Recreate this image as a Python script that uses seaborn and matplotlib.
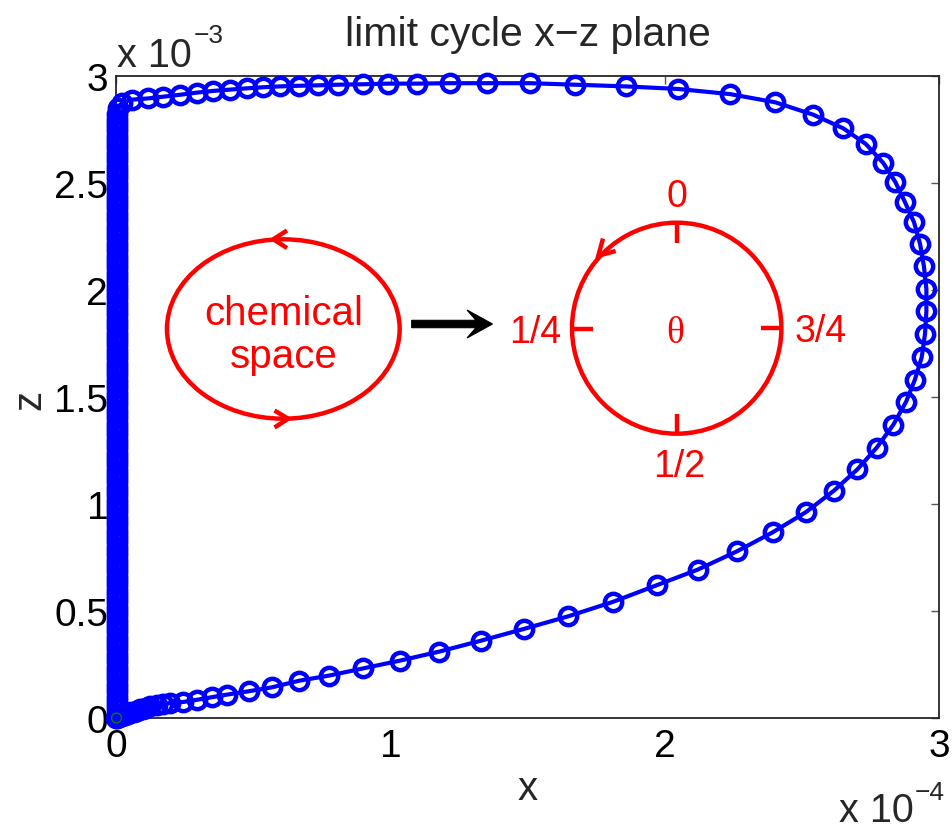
import matplotlib
matplotlib.use("Agg")
import numpy as np
import pandas as pd
import seaborn as sns
import matplotlib.pyplot as plt
from matplotlib.patches import Ellipse, Polygon
from matplotlib.lines import Line2D

# ---- limit cycle samples (x in units of 1e-4, z in units of 1e-3) ----
cycle_x = [0.000, 0.009, 0.020, 0.031, 0.042, 0.053, 0.064, 0.075, 0.086, 0.097,
           0.108, 0.122, 0.147, 0.171, 0.195, 0.244, 0.293, 0.347, 0.402, 0.483,
           0.566, 0.666, 0.775, 0.900, 1.034, 1.177, 1.329, 1.486, 1.648, 1.812,
           1.972, 2.120, 2.264, 2.393, 2.514, 2.617, 2.702, 2.773, 2.833, 2.880,
           2.912, 2.937, 2.949, 2.954, 2.954, 2.945, 2.931, 2.909, 2.876, 2.841,
           2.797, 2.733, 2.651, 2.541, 2.402, 2.238, 2.049, 1.858, 1.672, 1.508,
           1.350, 1.216, 1.095, 0.991, 0.900, 0.809, 0.736, 0.666, 0.596, 0.535,
           0.475, 0.414, 0.353, 0.293, 0.232, 0.171, 0.116, 0.055, 0.020, 0.004]
cycle_z = [0.000, 0.005, 0.009, 0.014, 0.021, 0.026, 0.030, 0.035, 0.040, 0.044,
           0.049, 0.057, 0.061, 0.065, 0.070, 0.075, 0.085, 0.097, 0.109, 0.125,
           0.143, 0.174, 0.198, 0.232, 0.268, 0.310, 0.361, 0.416, 0.475, 0.543,
           0.621, 0.693, 0.779, 0.867, 0.961, 1.062, 1.161, 1.263, 1.369, 1.477,
           1.580, 1.685, 1.794, 1.900, 2.004, 2.110, 2.214, 2.315, 2.409, 2.503,
           2.592, 2.681, 2.754, 2.818, 2.876, 2.914, 2.938, 2.950, 2.958, 2.965,
           2.965, 2.965, 2.963, 2.963, 2.960, 2.958, 2.955, 2.953, 2.950, 2.946,
           2.941, 2.935, 2.929, 2.921, 2.911, 2.902, 2.894, 2.888, 2.873, 2.849]

# slow relaxation along x ~ 0 back down to the origin
descent_z = [2.82, 2.80, 2.78, 2.76, 2.74, 2.72, 2.70, 2.68, 2.66, 2.64,
             2.62, 2.60, 2.58, 2.56, 2.54, 2.52, 2.50, 2.48, 2.46, 2.44,
             2.42, 2.40, 2.38, 2.36, 2.34, 2.32, 2.30, 2.28, 2.26, 2.24,
             2.22, 2.20, 2.18, 2.16, 2.14, 2.12, 2.10, 2.08, 2.06, 2.04,
             2.02, 2.00, 1.98, 1.96, 1.94, 1.92, 1.90, 1.88, 1.86, 1.84,
             1.82, 1.80, 1.78, 1.76, 1.74, 1.72, 1.70, 1.68, 1.66, 1.64,
             1.62, 1.60, 1.58, 1.56, 1.54, 1.52, 1.50, 1.48, 1.46, 1.44,
             1.42, 1.40, 1.38, 1.36, 1.34, 1.32, 1.30, 1.28, 1.26, 1.24,
             1.22, 1.20, 1.18, 1.16, 1.14, 1.12, 1.10, 1.08, 1.06, 1.04,
             1.02, 1.00, 0.98, 0.96, 0.94, 0.92, 0.90, 0.88, 0.86, 0.84,
             0.82, 0.80, 0.78, 0.76, 0.74, 0.72, 0.70, 0.68, 0.66, 0.64,
             0.62, 0.60, 0.58, 0.56, 0.54, 0.52, 0.50, 0.48, 0.46, 0.44,
             0.42, 0.40, 0.38, 0.36, 0.34, 0.32, 0.30, 0.28, 0.26, 0.24,
             0.22, 0.20, 0.18, 0.16, 0.14, 0.12, 0.10, 0.08, 0.06, 0.04,
             0.02, 0.00]
descent_x = [0.002] * len(descent_z)

start_x = [0.0]
start_z = [0.0]

xticks = [0, 1, 2, 3]
xtick_labels = ["0", "1", "2", "3"]
zticks = [0, 0.5, 1, 1.5, 2, 2.5, 3]
ztick_labels = ["0", "0.5", "1", "1.5", "2", "2.5", "3"]

# ---- figure ----
sns.set_style("white")
plt.rcParams["font.family"] = ["Liberation Sans", "DejaVu Sans"]

W, H = 953, 828
fig = plt.figure(figsize=(W / 100, H / 100), dpi=100)
AX_L, AX_R, AX_T, AX_B = 116.5, 939.0, 76.7, 719.0
ax = fig.add_axes([AX_L / W, 1 - AX_B / H, (AX_R - AX_L) / W, (AX_B - AX_T) / H])

df = pd.DataFrame({"x": cycle_x + descent_x, "z": cycle_z + descent_z})
sns.lineplot(data=df, x="x", y="z", sort=False, estimator=None, ax=ax,
             color="#0000ff", linewidth=3.0, marker="o", markersize=12.5,
             markerfacecolor="none", markeredgecolor="#0000ff",
             markeredgewidth=3.2, clip_on=False, zorder=3)
sns.scatterplot(x=start_x, y=start_z, ax=ax, marker="o", s=50,
                facecolor="none", edgecolor="#008000", linewidth=1.0,
                clip_on=False, zorder=4)

ax.set_xlim(0, 3)
ax.set_ylim(0, 3)
ax.set_xticks(xticks)
ax.set_xticklabels(xtick_labels)
ax.set_yticks(zticks)
ax.set_yticklabels(ztick_labels)
ax.set_xlabel("")
ax.set_ylabel("")
ax.tick_params(axis="both", direction="in", length=6, width=1.0, color="#555555",
               top=True, right=True, labelsize=28, labelcolor="black")
ax.tick_params(axis="x", pad=7)
ax.tick_params(axis="y", pad=6)
for sp in ax.spines.values():
    sp.set_visible(True)
    sp.set_color("#262626")
    sp.set_linewidth(1.3)


def fx(px):
    return px / W


def fy(py):
    return 1 - py / H


# titles, axis labels and scale multipliers
fig.text(fx(527.7), fy(46), "limit cycle x\u2212z plane", ha="center",
         va="baseline", fontsize=29.5)
fig.text(fx(527.5), fy(800), "x", ha="center", va="baseline", fontsize=29)
fig.text(fx(29), fy(400), "z", ha="center", va="center", rotation=90,
         fontsize=29)
fig.text(fx(117), fy(66.7), "x 10", ha="left", va="baseline", fontsize=28.5)
fig.text(fx(194), fy(43), "\u22123", ha="left", va="baseline", fontsize=19)
fig.text(fx(839), fy(821.7), "x 10", ha="left", va="baseline", fontsize=28.5)
fig.text(fx(915), fy(800), "\u22124", ha="left", va="baseline", fontsize=19)


# ---- inset schematic: chemical cycle mapped onto a phase circle ----
def d(px, py):
    """figure pixel position -> data coordinates of the main axes"""
    return ((px - AX_L) / (AX_R - AX_L) * 3.0, (AX_B - py) / (AX_B - AX_T) * 3.0)


sx = 3.0 / (AX_R - AX_L)
sy = 3.0 / (AX_B - AX_T)
RED = "#ff0000"
LW_RED = 3.2

cx, cy = d(283.3, 330)
ax.add_patch(Ellipse((cx, cy), 232.7 * sx, 179.4 * sy, fill=False,
                     edgecolor=RED, linewidth=LW_RED, zorder=5))


def chevron(pts, color=RED, lw=LW_RED):
    xs, ys = zip(*[d(*p) for p in pts])
    ax.add_line(Line2D(xs, ys, color=color, linewidth=lw,
                       solid_joinstyle="miter", solid_capstyle="butt", zorder=6))


chevron([(287, 231.5), (273.3, 240.3), (287, 249)])
chevron([(274.5, 411.5), (288.3, 419.7), (274.5, 428.5)])

tx, ty = d(283.3, 325)
ax.text(tx, ty, "chemical", color=RED, fontsize=29, ha="center", va="baseline", zorder=6)
tx, ty = d(283.3, 368.3)
ax.text(tx, ty, "space", color=RED, fontsize=29, ha="center", va="baseline", zorder=6)

# black mapping arrow
arrow_pts = [(411.7, 321.3), (476, 321.3), (467, 311), (492.5, 325),
             (467, 339), (476, 328.7), (411.7, 328.7)]
ax.add_patch(Polygon([d(*p) for p in arrow_pts], closed=True, facecolor="black",
                     edgecolor="black", linewidth=0.8, zorder=6))

# phase circle
ccx, ccy = d(676.7, 329.2)
ax.add_patch(Ellipse((ccx, ccy), 209.4 * sx, 211 * sy, fill=False,
                     edgecolor=RED, linewidth=LW_RED, zorder=5))
for seg in [[(676.7, 223.5), (676.7, 243.5)], [(676.7, 415), (676.7, 435)],
            [(572, 330), (593, 330)], [(761.5, 328.5), (782, 328.5)]]:
    chevron(seg)
chevron([(603, 239.5), (598.3, 256.7), (615.7, 252)])

for label, (px_, py_), ha in [("0", (676.7, 206.7), "center"),
                              ("1/4", (561, 343.3), "right"),
                              ("3/4", (795, 342), "left"),
                              ("1/2", (679, 476.7), "center")]:
    lx, ly = d(px_, py_)
    ax.text(lx, ly, label, color=RED, fontsize=27, ha=ha, va="baseline", zorder=6)
lx, ly = d(675, 343.3)
ax.text(lx, ly, "\u03b8", color=RED, fontsize=27, ha="center", va="baseline",
        family=["Liberation Serif", "DejaVu Serif"], zorder=6)

fig.savefig("out.png", dpi=100)
